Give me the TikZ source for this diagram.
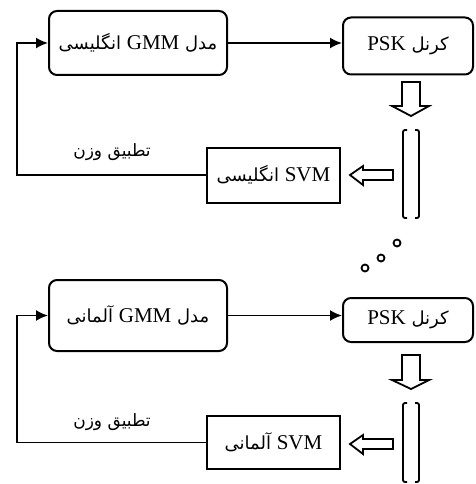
\documentclass[tikz,border=0pt]{standalone}
\usepackage{fontspec}
\setmainfont{Liberation Serif}
\newfontfamily\arabicfont[Script=Arabic]{DejaVu Sans}
\TeXXeTstate=1
\usetikzlibrary{arrows.meta, positioning}

\newcommand{\farsi}{\arabicfont\fontsize{18}{22}\selectfont}
\newcommand{\latin}[1]{\beginL{\rmfamily\fontsize{21}{24}\selectfont #1}\endL}

\begin{document}
\begin{tikzpicture}[x=1pt, y=-1pt]
  \tikzstyle{boiteronde}=[draw, line width=2pt, rounded corners=8pt,
    inner sep=0pt, font=\farsi]
  \tikzstyle{boite}=[draw, line width=2pt, inner sep=0pt, font=\farsi]
  \tikzstyle{fleche}=[-{Latex[length=12pt,width=11pt]}, line width=1.8pt]
  \tikzstyle{creuse}=[line width=1.8pt, line join=miter]
  \tikzstyle{crochet}=[line width=1.8pt, rounded corners=2pt]
  \useasboundingbox (0,0) rectangle (475,484);
  \coordinate (retour) at (17,0);

  % premier bloc : anglais
  \node[boiteronde, minimum width=178pt, minimum height=64pt] (gmm1) at (138,43)
    {\beginR مدل \latin{GMM}{} انگلیسی\endR};
  \node[boiteronde, minimum width=130pt, minimum height=57pt] (psk1) at (408,46)
    {\beginR کرنل \latin{PSK}\endR};
  \node[boite, minimum width=133pt, minimum height=55pt] (svm1) at (273.5,175)
    {\beginR\latin{SVM}{} انگلیسی\endR};
  \node[minimum width=16pt, minimum height=88pt, inner sep=0pt] (vec1) at (411,174) {};
  \draw[fleche] (gmm1) -- (gmm1 -| psk1.west);
  \draw[fleche] (svm1.west) -- (svm1.west -| retour) |- (gmm1.west);
  \node[font=\arabicfont\fontsize{17}{20}\selectfont] (poids1) at (112,152) {\beginR تطبیق وزن\endR};
  \draw[crochet] (407,130) -- (403,130) -- (403,218) -- (407,218);
  \draw[crochet] (415,130) -- (419,130) -- (419,218) -- (415,218);
  \draw[creuse] (402,82) -- (420,82) -- (420,106) -- (429,106) -- (411,116)
    -- (392,106) -- (402,106) -- cycle;
  \draw[creuse] (393,170) -- (393,180) -- (363,180) -- (363,185) -- (350,175)
    -- (363,166) -- (363,170) -- cycle;

  % points de suite
  \foreach \px/\py in {365/268, 381/258, 397/243}
    \draw[line width=1.8pt] (\px,\py) circle (3.5pt);

  % second bloc : allemand
  \node[boiteronde, minimum width=178pt, minimum height=71pt] (gmm2) at (138,315.5)
    {\beginR مدل \latin{GMM}{} آلمانی\endR};
  \node[boiteronde, minimum width=130pt, minimum height=44pt] (psk2) at (408,320)
    {\beginR کرنل \latin{PSK}\endR};
  \node[boite, minimum width=133pt, minimum height=53pt] (svm2) at (273.5,442.5)
    {\beginR\latin{SVM}{} آلمانی\endR};
  \node[minimum width=16pt, minimum height=80pt, inner sep=0pt] (vec2) at (411,443) {};
  \draw[fleche] (gmm2) -- (gmm2 -| psk2.west);
  \draw[fleche] (svm2.west) -- (svm2.west -| retour) |- (gmm2.west);
  \node[font=\arabicfont\fontsize{17}{20}\selectfont] (poids2) at (112,422) {\beginR تطبیق وزن\endR};
  \draw[crochet] (407,403) -- (403,403) -- (403,482) -- (407,482);
  \draw[crochet] (415,403) -- (419,403) -- (419,482) -- (415,482);
  \draw[creuse] (402,355) -- (420,355) -- (420,380) -- (429,380) -- (411,389)
    -- (392,380) -- (402,380) -- cycle;
  \draw[creuse] (393,439) -- (393,449) -- (363,449) -- (363,454) -- (350,444)
    -- (363,435) -- (363,439) -- cycle;
\end{tikzpicture}
\end{document}
